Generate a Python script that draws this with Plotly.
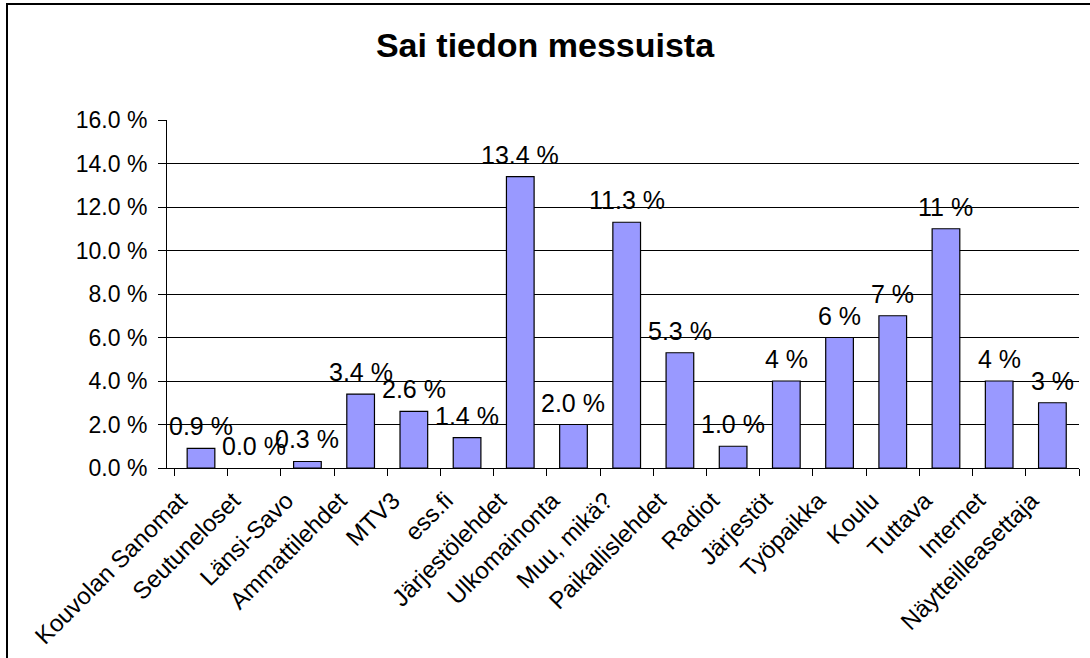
import plotly.graph_objects as go

categories = ["Kouvolan Sanomat", "Seutuneloset", "Länsi-Savo", "Ammattilehdet", "MTV3",
              "ess.fi", "Järjestölehdet", "Ulkomainonta", "Muu, mikä?", "Paikallislehdet",
              "Radiot", "Järjestöt", "Työpaikka", "Koulu", "Tuttava", "Internet",
              "Näytteilleasettaja"]
values = [0.9, 0.0, 0.3, 3.4, 2.6, 1.4, 13.4, 2.0, 11.3, 5.3, 1.0, 4, 6, 7, 11, 4, 3]
value_labels = ["0.9 %", "0.0 %", "0.3 %", "3.4 %", "2.6 %", "1.4 %", "13.4 %", "2.0 %",
                "11.3 %", "5.3 %", "1.0 %", "4 %", "6 %", "7 %", "11 %", "4 %", "3 %"]
y_ticks = [0, 2, 4, 6, 8, 10, 12, 14, 16]
y_tick_labels = ["0.0 %", "2.0 %", "4.0 %", "6.0 %", "8.0 %", "10.0 %", "12.0 %", "14.0 %", "16.0 %"]

FONT = "Liberation Sans, Arial, sans-serif"

# plot area in pixels
L, R, T, B = 167, 11, 120, 190
W, H = 1090, 658
pw, ph = W - L - R, H - T - B

fig = go.Figure()
fig.add_trace(go.Bar(
    x=categories, y=values,
    marker=dict(color="#9999FF",
                line=dict(color=["black" if v > 0 else "rgba(0,0,0,0)" for v in values],
                          width=1.2)),
    hoverinfo="x+y",
))

annotations = []
for c, v, t in zip(categories, values, value_labels):
    annotations.append(dict(
        x=c, y=v, xref="x", yref="y", text=t, showarrow=False,
        yshift=22, yanchor="middle", xanchor="center",
        font=dict(family=FONT, size=25, color="black"),
    ))

fig.update_layout(
    width=W, height=H,
    margin=dict(l=L, r=R, t=T, b=B, autoexpand=False),
    paper_bgcolor="white", plot_bgcolor="white",
    bargap=0.48,
    showlegend=False,
    title=dict(text="<b>Sai tiedon messuista</b>", x=(545 - L) / pw, xref="paper",
               xanchor="center",
               y=1 - 45 / H, yanchor="middle",
               font=dict(family=FONT, size=34, color="black")),
    annotations=annotations,
    xaxis=dict(
        tickangle=-45, ticks="outside", tickson="boundaries", ticklen=7,
        tickcolor="black", tickwidth=1,
        ticklabelshift=-21, ticklabelstandoff=8,
        showline=True, linecolor="black", linewidth=1,
        showgrid=False, automargin=False,
        tickfont=dict(family=FONT, size=24, color="black"),
    ),
    yaxis=dict(
        range=[0, 16], tickvals=y_ticks, ticktext=y_tick_labels,
        ticks="outside", ticklen=8, tickcolor="black", tickwidth=1,
        ticklabelstandoff=6,
        showline=True, linecolor="black", linewidth=1,
        showgrid=True, gridcolor="black", gridwidth=1,
        zeroline=False, automargin=False,
        tickfont=dict(family=FONT, size=23, color="black"),
    ),
    shapes=[dict(type="rect", xref="paper", yref="paper",
                 x0=(7 - L) / pw, x1=1 + (R + 20) / pw,
                 y0=-(B + 20) / ph, y1=1 + (T - 4) / ph,
                 line=dict(color="black", width=2), fillcolor="rgba(0,0,0,0)",
                 layer="below")],
)

fig.write_html("out.html", config={"displayModeBar": False},
               post_script="document.body.style.margin='0';")
